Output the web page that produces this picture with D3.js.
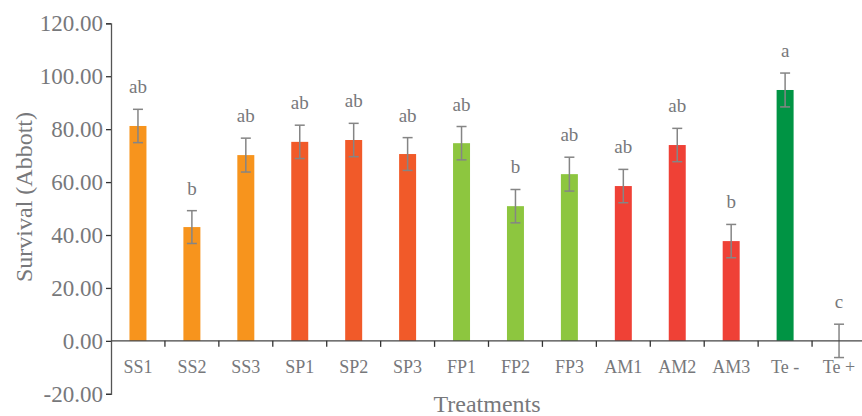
<!DOCTYPE html>
<html lang="en">
<head>
<meta charset="UTF-8">
<title>Survival (Abbott) by treatment</title>
<script src="https://d3js.org/d3.v7.min.js"></script>
<style>
  body { margin: 0; background: #fff; }
</style>
</head>
<body>
<script>

// data
var treatments = ["SS1", "SS2", "SS3", "SP1", "SP2", "SP3", "FP1", "FP2", "FP3", "AM1", "AM2", "AM3", "Te -", "Te +"];
var survival   = [81.2, 43.0, 70.2, 75.2, 75.9, 70.6, 74.7, 50.9, 63.0, 58.5, 74.0, 37.7, 94.8, 0];
var errors     = [6.3, 6.2, 6.4, 6.3, 6.3, 6.2, 6.3, 6.3, 6.4, 6.3, 6.3, 6.3, 6.4, 6.3];
var letters    = ["ab", "b", "ab", "ab", "ab", "ab", "ab", "b", "ab", "ab", "ab", "b", "a", "c"];
var groups     = ["SS", "SS", "SS", "SP", "SP", "SP", "FP", "FP", "FP", "AM", "AM", "AM", "Te-", "Te+"];
var yTicks     = [-20, 0, 20, 40, 60, 80, 100, 120];

var groupColor = {
    "SS": "#f7941d",
    "SP": "#f15a29",
    "FP": "#8dc63f",
    "AM": "#ef4136",
    "Te-": "#009444",
    "Te+": "#ffffff"
};

var width = 862;
var height = 416;
var textColor = "#77787b";
var serif = "'Liberation Serif', 'Times New Roman', Times, serif";

var svg = d3.select("body").append("svg")
    .attr("width", width)
    .attr("height", height)
    .style("font-family", serif);

var x = d3.scaleBand()
    .domain(treatments)
    .range([111, 866])
    .paddingInner(0)
    .paddingOuter(0);

var y = d3.scaleLinear()
    .domain([-20, 120])
    .range([393.8, 23.3]);

var barWidth = x.bandwidth() * 0.315;

var rows = treatments.map(function(t, i) {
    return { name: t, value: survival[i], err: errors[i], letter: letters[i], color: groupColor[groups[i]] };
});

// bars
svg.append("g")
    .selectAll("rect")
    .data(rows)
    .enter().append("rect")
    .attr("x", function(d) { return x(d.name) + x.bandwidth() / 2 - barWidth / 2; })
    .attr("y", function(d) { return y(Math.max(0, d.value)); })
    .attr("width", barWidth)
    .attr("height", function(d) { return Math.abs(y(d.value) - y(0)); })
    .style("fill", function(d) { return d.color; });

// error bars
var eb = svg.append("g")
    .selectAll("g")
    .data(rows)
    .enter().append("g")
    .attr("transform", function(d) { return "translate(" + (x(d.name) + x.bandwidth() / 2) + ",0)"; })
    .style("stroke", "#858585")
    .style("stroke-width", 1.5);

eb.append("line")
    .attr("y1", function(d) { return y(d.value + d.err); })
    .attr("y2", function(d) { return y(d.value - d.err); });
eb.append("line")
    .attr("x1", -5).attr("x2", 5)
    .attr("y1", function(d) { return y(d.value + d.err); })
    .attr("y2", function(d) { return y(d.value + d.err); });
eb.append("line")
    .attr("x1", -5).attr("x2", 5)
    .attr("y1", function(d) { return y(d.value - d.err); })
    .attr("y2", function(d) { return y(d.value - d.err); });

// significance letters
svg.append("g")
    .selectAll("text")
    .data(rows)
    .enter().append("text")
    .attr("x", function(d) { return x(d.name) + x.bandwidth() / 2; })
    .attr("y", function(d) { return y(d.value + d.err) - 16; })
    .attr("text-anchor", "middle")
    .style("font-family", serif)
    .style("font-size", "19px")
    .style("fill", textColor)
    .text(function(d) { return d.letter; });

// y axis
var fmt = d3.format(".2f");
var yAxis = svg.append("g")
    .attr("transform", "translate(" + x.range()[0] + ",0)")
    .call(d3.axisLeft(y).tickValues(yTicks)
        .tickFormat(function(d) { return fmt(d).replace("\u2212", "-"); })
        .tickSize(5).tickPadding(3));
yAxis.attr("font-family", null);
yAxis.select(".domain").attr("stroke", "#555").attr("stroke-width", 1.3);
yAxis.selectAll(".tick line").attr("stroke", "#333").attr("stroke-width", 1.3);
yAxis.selectAll(".tick text")
    .style("font-family", serif)
    .style("font-size", "23px")
    .style("fill", textColor);

// x axis at zero, ticks between the bands
var xAxisG = svg.append("g")
    .attr("transform", "translate(0," + y(0) + ")");
xAxisG.append("line")
    .attr("x1", x.range()[0]).attr("x2", x.range()[1])
    .attr("stroke", "#444").attr("stroke-width", 1.3);
xAxisG.selectAll(".sep")
    .data(treatments.slice(1))
    .enter().append("line")
    .attr("class", "sep")
    .attr("x1", function(d) { return x(d); })
    .attr("x2", function(d) { return x(d); })
    .attr("y1", 0).attr("y2", 6)
    .attr("stroke", "#333").attr("stroke-width", 1.3);
xAxisG.selectAll(".lab")
    .data(treatments)
    .enter().append("text")
    .attr("class", "lab")
    .attr("x", function(d) { return x(d) + x.bandwidth() / 2; })
    .attr("y", 32)
    .attr("text-anchor", "middle")
    .style("font-family", serif)
    .style("font-size", "18px")
    .style("fill", textColor)
    .text(function(d) { return d; });

// axis titles
svg.append("text")
    .attr("x", 487)
    .attr("y", 412)
    .attr("text-anchor", "middle")
    .style("font-family", serif)
    .style("font-size", "24px")
    .style("fill", textColor)
    .text("Treatments");

svg.append("text")
    .attr("transform", "translate(32,197) rotate(-90)")
    .attr("text-anchor", "middle")
    .style("font-family", serif)
    .style("font-size", "24px")
    .style("fill", textColor)
    .text("Survival (Abbott)");

</script>
</body>
</html>
